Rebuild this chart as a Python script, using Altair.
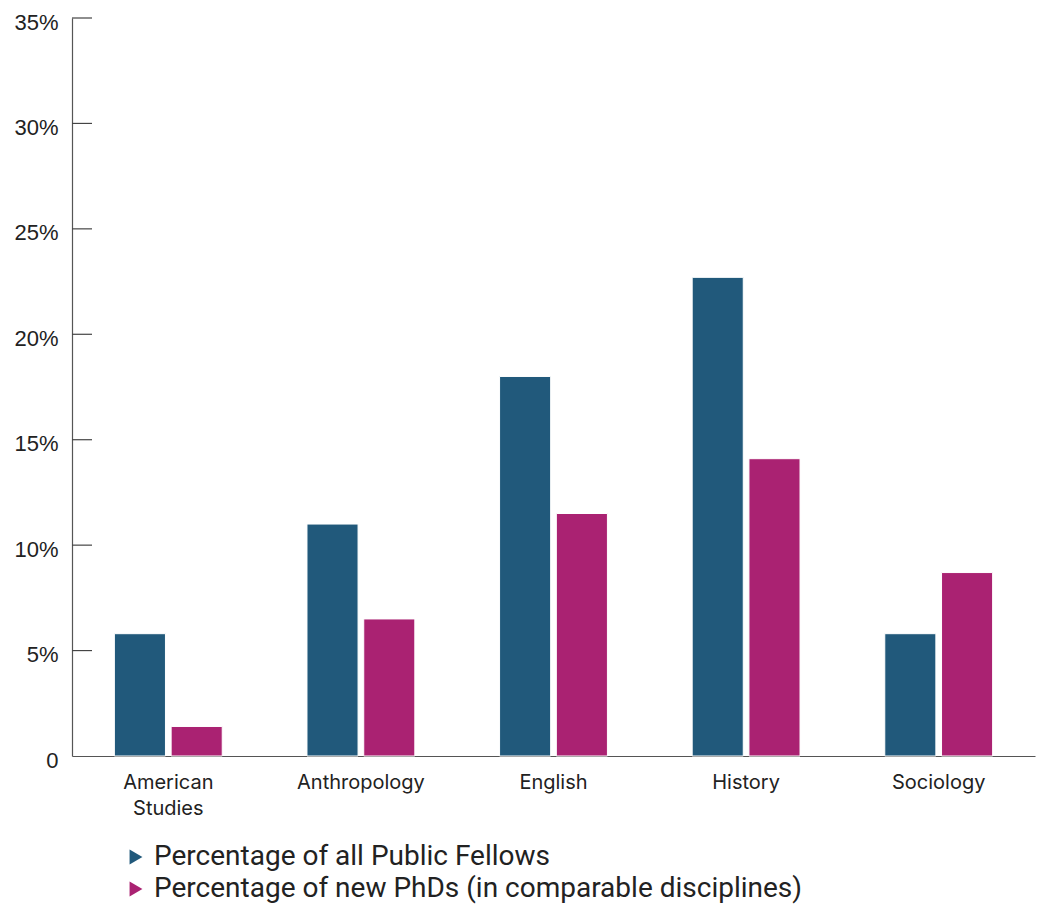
import altair as alt
import pandas as pd

categories = ["American Studies", "Anthropology", "English", "History", "Sociology"]
series = ["Percentage of all Public Fellows", "Percentage of new PhDs (in comparable disciplines)"]
fellows = [5.8, 11.0, 18.0, 22.7, 5.8]
new_phds = [1.4, 6.5, 11.5, 14.1, 8.7]
y_ticks = [0, 5, 10, 15, 20, 25, 30, 35]
colors = ["#21597B", "#AA2272"]

rows = []
for c, a, b in zip(categories, fellows, new_phds):
    rows.append({"discipline": c, "series": series[0], "value": a})
    rows.append({"discipline": c, "series": series[1], "value": b})
df = pd.DataFrame(rows)
ticks_df = pd.DataFrame({"t": y_ticks[1:]})

x_scale = alt.Scale(domain=categories, paddingInner=0.44, paddingOuter=0.22)
y_scale = alt.Scale(domain=[0, 35], nice=False)

bars = alt.Chart(df).mark_bar(stroke="white", strokeWidth=1).encode(
    x=alt.X("discipline:N", scale=x_scale, sort=categories,
            axis=alt.Axis(title=None, ticks=False, labelAngle=0, labelFontSize=20,
                          labelFont="Inter", labelColor="#222", labelPadding=16,
                          domainColor="#555", domainWidth=1.2,
                          labelExpr="datum.value == 'American Studies' ? ['American', 'Studies'] : datum.value",
                          labelLineHeight=26)),
    xOffset=alt.XOffset("series:N", sort=series, scale=alt.Scale(paddingInner=0.1)),
    y=alt.Y("value:Q", scale=y_scale,
            axis=alt.Axis(title=None, values=y_ticks, ticks=False, grid=False,
                          labelFontSize=22, labelFont="Liberation Sans", labelColor="#222",
                          labelPadding=14, labelOffset=4, domainColor="#555", domainWidth=1.2,
                          labelExpr="datum.value == 0 ? '0' : datum.value + '%'")),
    color=alt.Color("series:N", sort=series, scale=alt.Scale(domain=series, range=colors),
                    legend=alt.Legend(title=None, orient="none", legendX=50, legendY=825,
                                      direction="vertical", symbolType="triangle-right",
                                      symbolSize=220, symbolStrokeWidth=0, labelFontSize=28,
                                      labelFont="Roboto", labelColor="#222", rowPadding=4,
                                      labelOffset=4, labelLimit=0)),
)

tick_rules = alt.Chart(ticks_df).mark_rule(color="#444", strokeWidth=1.2).encode(
    y=alt.Y("t:Q", scale=y_scale),
    x=alt.value(0),
    x2=alt.value(20),
)

chart = alt.layer(bars, tick_rules).properties(
    width=963, height=738,
    background="white",
    autosize=alt.AutoSizeParams(type="none"),
    padding={"left": 72, "top": 18, "right": 2, "bottom": 149},
).configure_view(stroke=None, strokeWidth=0)

chart.save("out.html", embed_options={"renderer": "svg", "actions": False})
